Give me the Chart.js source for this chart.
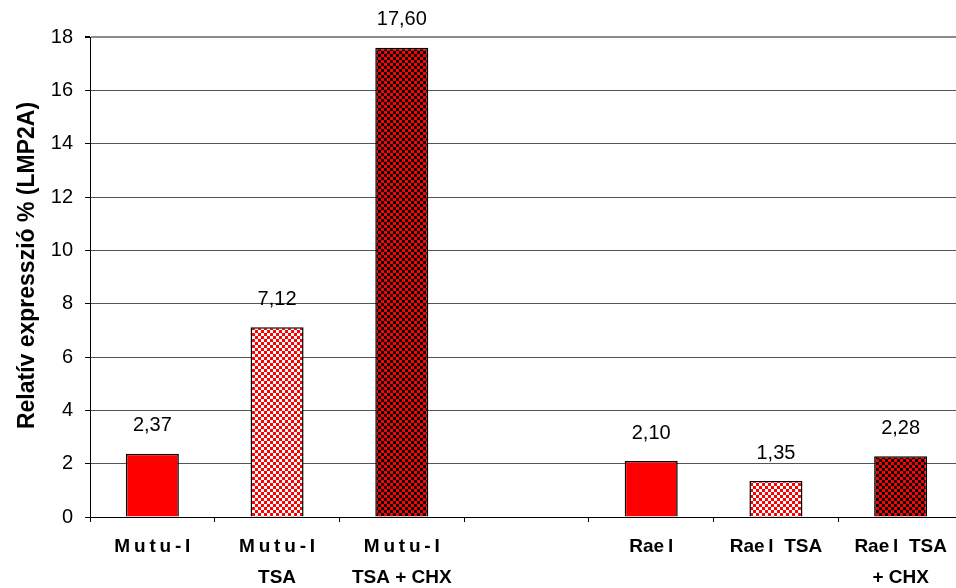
<!DOCTYPE html>
<html>
<head>
<meta charset="utf-8">
<script src="https://cdn.jsdelivr.net/npm/chart.js@4/dist/chart.umd.min.js"></script>
<style>
  html, body { margin: 0; padding: 0; background: #fff; overflow: hidden; }
  #wrap { width: 966px; height: 588px; }
</style>
</head>
<body>
<div id="wrap"><canvas id="chart" width="966" height="588"></canvas></div>
<script>
// Category labels (multi-line), with an empty slot separating the two cell lines
const categories = [
  ['M\u2009u\u2009t\u2009u\u2009-\u2009I'],
  ['M\u2009u\u2009t\u2009u\u2009-\u2009I', 'TSA'],
  ['M\u2009u\u2009t\u2009u\u2009-\u2009I', 'TSA + CHX'],
  [''],
  ['Rae\u2009l'],
  ['Rae\u2009l  TSA'],
  ['Rae\u2009l  TSA', '+ CHX']
];
// Relative expression values (%)
const values = [2.37, 7.12, 17.60, null, 2.10, 1.35, 2.28];
// Fill style per bar: solid, light check, dark check
const fillKinds = ['solid', 'light', 'dark', 'solid', 'solid', 'light', 'dark'];
const yTicks = [0, 2, 4, 6, 8, 10, 12, 14, 16, 18];
const yTitle = 'Relatív expresszió % (LMP2A)';

function checker(c1, c2, cell) {
  const tile = document.createElement('canvas');
  tile.width = cell * 2; tile.height = cell * 2;
  const t = tile.getContext('2d');
  t.fillStyle = c1; t.fillRect(0, 0, cell * 2, cell * 2);
  t.fillStyle = c2;
  t.fillRect(0, 0, cell, cell);
  t.fillRect(cell, cell, cell, cell);
  return t.createPattern(tile, 'repeat');
}
const fills = {
  solid: '#ff0000',
  light: checker('#ff0000', '#ffffff', 3),
  dark: checker('#ff0000', '#000000', 3)
};

const fmt = v => v.toFixed(2).replace('.', ',');

const valueLabels = {
  id: 'valueLabels',
  afterDatasetsDraw(chart) {
    const ctx = chart.ctx;
    const meta = chart.getDatasetMeta(0);
    ctx.save();
    ctx.font = '20px "Liberation Sans", Arial, sans-serif';
    ctx.fillStyle = '#000';
    ctx.textAlign = 'center';
    ctx.textBaseline = 'middle';
    meta.data.forEach((bar, i) => {
      const v = values[i];
      if (v == null) return;
      ctx.fillText(fmt(v), bar.x, bar.y - 28);
    });
    ctx.restore();
  }
};

new Chart(document.getElementById('chart'), {
  type: 'bar',
  data: {
    labels: categories,
    datasets: [{
      data: values,
      backgroundColor: fillKinds.map(k => fills[k]),
      borderColor: '#000',
      borderWidth: 1.5,
      borderSkipped: 'bottom',
      barPercentage: 0.425,
      categoryPercentage: 1
    }]
  },
  options: {
    responsive: false,
    animation: false,
    devicePixelRatio: 1,
    layout: { padding: { top: 37, right: 3, left: 0, bottom: 0 } },
    plugins: { legend: { display: false }, tooltip: { enabled: false } },
    scales: {
      x: {
        offset: true,
        grid: {
          offset: true,
          drawOnChartArea: false,
          drawTicks: true,
          tickLength: 5,
          color: '#000'
        },
        border: { color: '#000', width: 1 },
        ticks: {
          color: '#000',
          maxRotation: 0,
          autoSkip: false,
          padding: 10,
          font: { family: '"Liberation Sans", Arial, sans-serif', size: 19, weight: 'bold', lineHeight: 1.6 }
        },
        afterFit(scale) { scale.height = 71; }
      },
      y: {
        min: 0,
        max: 18,
        afterBuildTicks(scale) { scale.ticks = yTicks.map(v => ({ value: v })); },
        grid: {
          color: ctx => ctx.tick && ctx.tick.value === 18 ? '#8c8c8c' : '#555',
          lineWidth: ctx => ctx.tick && ctx.tick.value === 18 ? 2 : 1,
          tickColor: '#000',
          tickLength: 5
        },
        border: { color: '#000', width: 1 },
        ticks: {
          color: '#000',
          padding: 12,
          font: { family: '"Liberation Sans", Arial, sans-serif', size: 20 }
        },
        title: {
          display: true,
          text: '\u2003' + yTitle,
          color: '#000',
          padding: { top: 14, bottom: 0 },
          font: { family: '"Liberation Sans", Arial, sans-serif', size: 23, weight: 'bold' }
        },
        afterFit(scale) { scale.width = 90; }
      }
    }
  },
  plugins: [valueLabels]
});
</script>
</body>
</html>
